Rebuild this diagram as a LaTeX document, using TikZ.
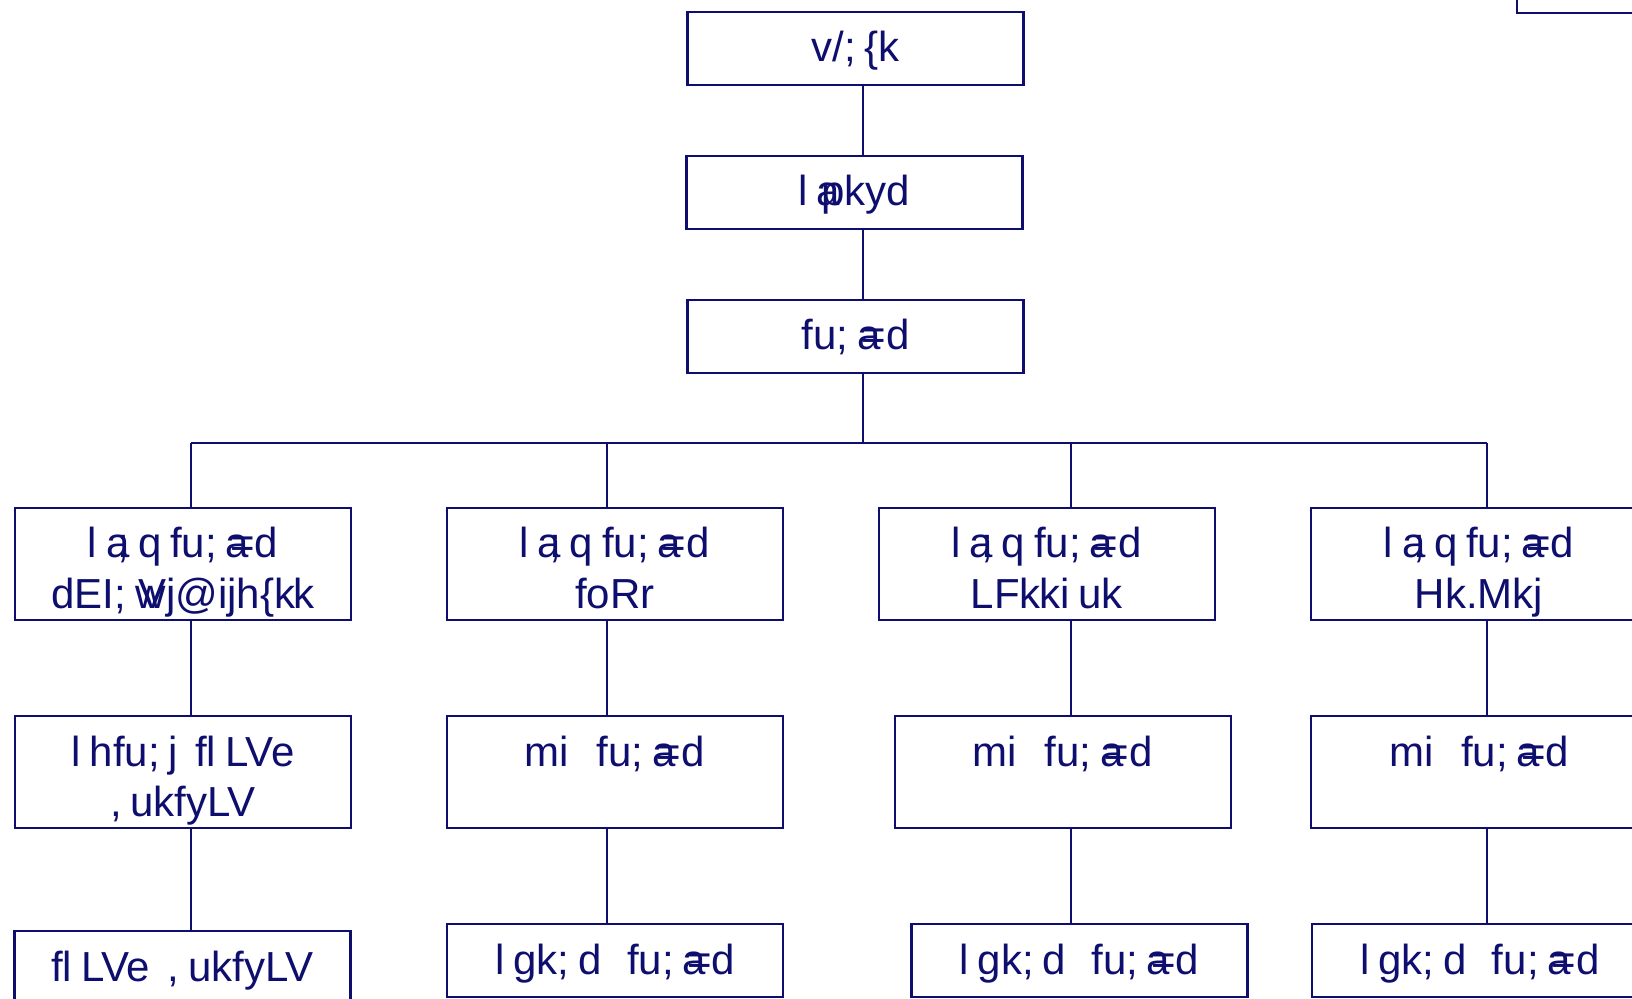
\documentclass[tikz,border=0pt]{standalone}
\usepackage{fontspec}
\setmainfont{Liberation Sans}[WordSpace=0.75]
\definecolor{encre}{RGB}{14,14,110}

\begin{document}
\begin{tikzpicture}[x=0.5pt,y=-0.5pt,line width=1.1pt,color=encre,
  boite/.style={draw,rectangle,inner sep=0pt,minimum width=168pt,minimum height=36.5pt,
    font=\fontsize{21}{25}\selectfont,text height=16pt,text depth=2.5pt},
  boite2/.style={boite,minimum height=56pt,align=center,text height=45pt,text depth=1pt}]
    %organigramme
\useasboundingbox (0,0) rectangle (1632,999);
\clip (0,0) rectangle (1632,999);
\newcommand{\ovl}{a\kern-.45em}
\newcommand{\sanq}{l a\llap{;} q fu; \ovl=d}

\node[boite] (coin) at (1685,-23.5) {};
\node[boite] (chair) at (855.5,48.5) {v/; \{k};
\node[boite] (dir) at (854.5,192.5) {l \ovl pkyd};
\node[boite] (ctrl) at (855.5,336.5) {fu; \ovl=d};

\node[boite2] (jc1) at (183,564) {\sanq\\dEI; w\kern-.65em Vj@ijh\{k\kern-.04em k};
\node[boite2] (jc2) at (614.8,564) {\sanq\\foRr};
\node[boite2] (jc3) at (1046.8,564) {\sanq\\LFk\kern-.04em ki uk};
\node[boite2] (jc4) at (1479,564) {\sanq\\Hk.Mkj};

\node[boite2] (dc1) at (183,772) {l hfu; j\ \ fl LVe\\, ukfyLV};
\node[boite2] (dc2) at (614.8,772) {mi\hspace{.45em} fu; \ovl=d\\\mbox{}};
\node[boite2] (dc3) at (1062.8,772) {mi\hspace{.45em} fu; \ovl=d\\\mbox{}};
\node[boite2] (dc4) at (1479,772) {mi\hspace{.45em} fu; \ovl=d\\\mbox{}};

\node[boite] (ac1) at (182.4,967.5) {fl LVe\ \ , ukfyLV};
\node[boite] (ac2) at (615.3,960.5) {l gk; d\hspace{.4em} fu; \ovl=d};
\node[boite] (ac3) at (1079.5,960.5) {l gk; d\hspace{.4em} fu; \ovl=d};
\node[boite] (ac4) at (1480,960.5) {l gk; d\hspace{.4em} fu; \ovl=d};

\coordinate (tronc) at (863,443.4);
\coordinate (b1) at (191,443.4);
\coordinate (b2) at (607,443.4);
\coordinate (b3) at (1071,443.4);
\coordinate (b4) at (1487,443.4);

\draw (chair.south -| tronc) -- (dir.north -| tronc);
\draw (dir.south -| tronc) -- (ctrl.north -| tronc);
\draw (ctrl.south -| tronc) -- (tronc);
\draw (b1) -- (b4);
\foreach \i in {1,...,4}{
  \draw (b\i) -- (jc\i.north -| b\i);
  \draw (jc\i.south -| b\i) -- (dc\i.north -| b\i);
  \draw (dc\i.south -| b\i) -- (ac\i.north -| b\i);
}
\end{tikzpicture}
\end{document}
